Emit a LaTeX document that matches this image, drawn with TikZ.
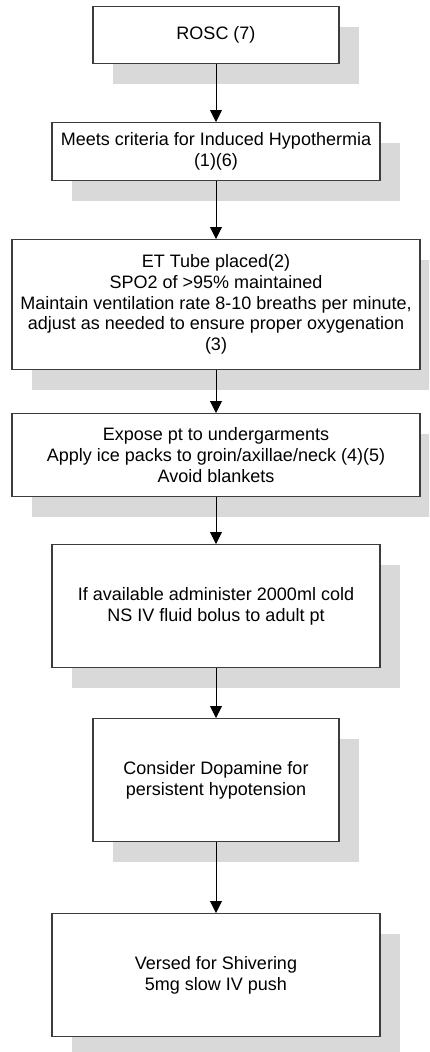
\documentclass[tikz,border=0pt]{standalone}
\usepackage{fontspec}
\setmainfont{Liberation Sans}
\usetikzlibrary{arrows.meta,shadows}
\definecolor{framegray}{RGB}{60,60,60}
\definecolor{shadowgray}{RGB}{217,217,217}
\tikzset{
  stepbox/.style={draw=framegray, line width=1.2pt, fill=white, inner sep=0pt,
    anchor=north, align=center, text=black,
    font=\fontsize{18}{20.7}\selectfont,
    drop shadow={shadow xshift=20pt, shadow yshift=-20pt, fill=shadowgray, opacity=1}},
  flow/.style={draw=black, line width=0.9pt, -{Triangle[length=12pt,width=12pt]}}
}
\begin{document}
\begin{tikzpicture}[x=1pt,y=-1pt]
  \path[use as bounding box] (0,0) rectangle (429,1052);
  \clip (0,0) rectangle (429,1052);
  \node[stepbox, minimum width=246pt, minimum height=57pt] (rosc) at (216,6) {ROSC (7)};
  \node[stepbox, minimum width=328pt, minimum height=58pt] (criteria) at (216,122)
    {Meets criteria for Induced Hypothermia\\(1)(6)};
  \node[stepbox, minimum width=408pt, minimum height=130pt] (airway) at (216,239)
    {ET Tube placed(2)\\SPO2 of >95\% maintained\\Maintain ventilation rate 8-10 breaths per minute,\\adjust as needed to ensure proper oxygenation\\(3)};
  \node[stepbox, minimum width=408pt, minimum height=83pt] (expose) at (216,413)
    {Expose pt to undergarments\\Apply ice packs to groin/axillae/neck (4)(5)\\Avoid blankets};
  \node[stepbox, minimum width=328pt, minimum height=123pt] (fluid) at (216,544)
    {If available administer 2000ml cold\\NS IV fluid bolus to adult pt};
  \node[stepbox, minimum width=246pt, minimum height=123pt] (dopa) at (216,718)
    {Consider Dopamine for\\persistent hypotension};
  \node[stepbox, minimum width=328pt, minimum height=123pt] (versed) at (216,913)
    {Versed for Shivering\\5mg slow IV push};
  \draw[flow] (rosc.south) -- (criteria.north);
  \draw[flow] (criteria.south) -- (airway.north);
  \draw[flow] (airway.south) -- (expose.north);
  \draw[flow] (expose.south) -- (fluid.north);
  \draw[flow] (fluid.south) -- (dopa.north);
  \draw[flow] (dopa.south) -- (versed.north);
\end{tikzpicture}
\end{document}
